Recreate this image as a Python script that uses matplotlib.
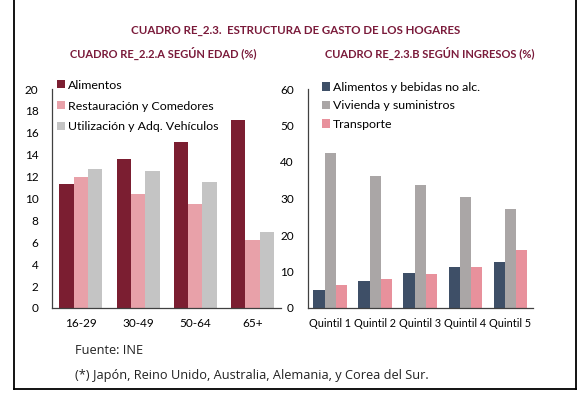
import matplotlib
matplotlib.use("Agg")
import matplotlib.pyplot as plt
import numpy as np
from matplotlib.lines import Line2D

# Left chart data (by age)
age_groups = ["16-29", "30-49", "50-64", "65+"]
alimentos_edad = [11.3, 13.6, 15.2, 17.2]
restauracion_edad = [12.0, 10.4, 9.5, 6.2]
vehiculos_edad = [12.7, 12.5, 11.5, 6.9]
left_series_names = ["Alimentos", "Restauración y Comedores", "Utilización y Adq. Vehículos"]
left_yticks = [0, 2, 4, 6, 8, 10, 12, 14, 16, 18, 20]

# Right chart data (by income quintile)
quintiles = ["Quintil 1", "Quintil 2", "Quintil 3", "Quintil 4", "Quintil 5"]
alimentos_ingresos = [4.9, 7.5, 9.6, 11.1, 12.5]
vivienda_ingresos = [42.6, 36.3, 33.6, 30.5, 27.1]
transporte_ingresos = [6.3, 7.9, 9.4, 11.3, 15.8]
right_series_names = ["Alimentos y bebidas no alc.", "Vivienda y suministros", "Transporte"]
right_yticks = [0, 10, 20, 30, 40, 50, 60]

main_title = "CUADRO RE_2.3.  ESTRUCTURA DE GASTO DE LOS HOGARES"
left_title = "CUADRO RE_2.2.A SEGÚN EDAD (%)"
right_title = "CUADRO RE_2.3.B SEGÚN INGRESOS (%)"
source_text = "Fuente: INE"
note_text = "(*) Japón, Reino Unido, Australia, Alemania, y Corea del Sur."

W, H = 586, 398
fig = plt.figure(figsize=(W / 100, H / 100), dpi=100)
fig.patch.set_facecolor("white")

FONT = "Lato"
title_color = "#7A1A3A"
axis_color = "#404040"


def px_axes(x0, x1, ytop, ybot):
    return fig.add_axes([x0 / W, (H - ybot) / H, (x1 - x0) / W, (ybot - ytop) / H])


def grouped(ax, cats, series, colors, names, ymax, yticks, xfs, leg_kw):
    x = np.arange(len(cats))
    bw = 0.25
    for i, (vals, c, n) in enumerate(zip(series, colors, names)):
        ax.bar(x + (i - 1) * bw, vals, width=bw, color=c, label=n, linewidth=0)
    ax.set_xlim(-0.5, len(cats) - 0.5)
    ax.set_ylim(0, ymax)
    ax.set_yticks(yticks)
    ax.set_yticklabels([str(t) for t in yticks], fontfamily=FONT, fontsize=8.5)
    ax.set_xticks(x)
    ax.set_xticklabels(cats, fontfamily=FONT, fontsize=xfs)
    ax.tick_params(axis="both", length=0, colors="black")
    ax.tick_params(axis="y", pad=10)
    ax.tick_params(axis="x", pad=7)
    for s in ["top", "right"]:
        ax.spines[s].set_visible(False)
    for s in ["left", "bottom"]:
        ax.spines[s].set_color(axis_color)
        ax.spines[s].set_linewidth(0.9)
    leg = ax.legend(frameon=False, prop={"family": FONT, "size": 8.9},
                    handlelength=0.65, handleheight=0.65, handletextpad=0.25,
                    borderaxespad=0, loc="upper left", **leg_kw)
    return leg


axL = px_axes(52.3, 281, 89, 308)
grouped(axL, age_groups, [alimentos_edad, restauracion_edad, vehiculos_edad],
        ["#7B1E31", "#E8A1A9", "#C4C4C4"], left_series_names, 20, left_yticks, 8.5,
        dict(bbox_to_anchor=(0.0, 1.065), labelspacing=0.8))

axR = px_axes(307.7, 533, 89, 308)
grouped(axR, quintiles, [alimentos_ingresos, vivienda_ingresos, transporte_ingresos],
        ["#3E4F67", "#AAA6A6", "#E8919C"], right_series_names, 60, right_yticks, 7.8,
        dict(bbox_to_anchor=(0.04, 1.055), labelspacing=0.6))

fig.text(296 / W, 1 - 31 / H, main_title, ha="center", va="center",
         fontfamily=FONT, fontweight="bold", fontsize=8.3, color=title_color)
fig.text(163 / W, 1 - 53 / H, left_title, ha="center", va="center",
         fontfamily=FONT, fontweight="bold", fontsize=8, color=title_color)
fig.text(430 / W, 1 - 53 / H, right_title, ha="center", va="center",
         fontfamily=FONT, fontweight="bold", fontsize=8, color=title_color)

fig.text(75 / W, 1 - 350 / H, source_text, ha="left", va="center",
         fontfamily="Open Sans", fontsize=9.2, color="#222222")
fig.text(75 / W, 1 - 376 / H, note_text, ha="left", va="center",
         fontfamily="Open Sans", fontsize=9.2, color="#222222")

# border box (top edge outside the image)
bx0, bx1, by1 = 13.5 / W, 576 / W, 1 - 389 / H
fig.add_artist(Line2D([bx0, bx0], [by1, 1.02], color="black", lw=1.3, transform=fig.transFigure))
fig.add_artist(Line2D([bx1, bx1], [by1, 1.02], color="black", lw=1.3, transform=fig.transFigure))
fig.add_artist(Line2D([bx0, bx1], [by1, by1], color="black", lw=1.3, transform=fig.transFigure))

fig.savefig("out.png", dpi=100, facecolor="white")
